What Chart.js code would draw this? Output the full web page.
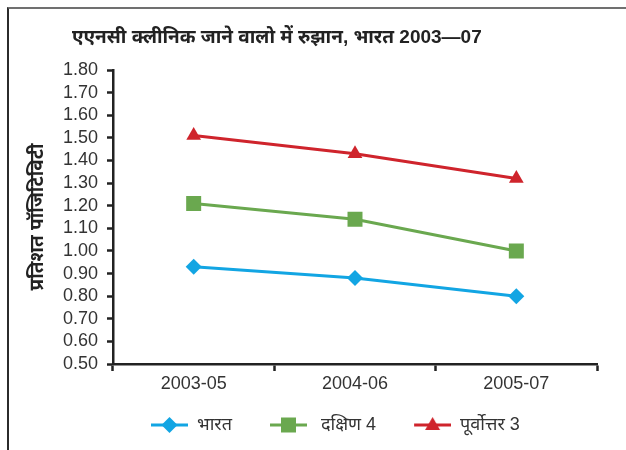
<!DOCTYPE html>
<html>
<head>
<meta charset="utf-8">
<script src="https://cdn.jsdelivr.net/npm/chart.js@4/dist/chart.umd.min.js"></script>
<style>
    html, body { margin: 0; padding: 0; background: #fff; }
    #wrap { position: relative; width: 626px; height: 450px; overflow: hidden; }
    #frame {
        position: absolute; left: 7px; top: 7px; right: -5px; bottom: -5px;
        border-top: 2px solid #707070; border-left: 2px solid #2b2b2b;
    }
    #chart { position: absolute; left: 0; top: 0; }
</style>
</head>
<body>
<div id="wrap">
    <div id="frame"></div>
    <canvas id="chart" width="626" height="450"></canvas>
</div>
<script>
/* data */
const periods = ['2003-05', '2004-06', '2005-07'];
const bharat = [0.93, 0.88, 0.80];
const dakshin = [1.21, 1.14, 1.00];
const purvottar = [1.51, 1.43, 1.32];

const chartTitle = 'एएनसी क्लीनिक जाने वालो में रुझान, भारत 2003—07';
const yTitle = 'प्रतिशत पॉजिटिविटी';

const FONT = "'Liberation Sans', 'Noto Sans', 'DejaVu Sans', sans-serif";
const BLUE = '#12a5e3';
const GREEN = '#6aa84f';
const RED = '#cf242c';

const LEGEND_GAP = 28; // blank space left of each legend symbol

// legend symbol: short line with the marker on it
function legendSymbol(color, shape) {
    const c = document.createElement('canvas');
    c.width = LEGEND_GAP + 37;
    c.height = 20;
    const ctx = c.getContext('2d');
    const x0 = LEGEND_GAP, cx = LEGEND_GAP + 18.5, cy = 10;
    ctx.strokeStyle = color;
    ctx.fillStyle = color;
    ctx.lineWidth = 3;
    ctx.beginPath();
    ctx.moveTo(x0, cy);
    ctx.lineTo(x0 + 37, cy);
    ctx.stroke();
    ctx.beginPath();
    if (shape === 'diamond') {
        ctx.moveTo(cx, cy - 8); ctx.lineTo(cx + 8, cy); ctx.lineTo(cx, cy + 8); ctx.lineTo(cx - 8, cy);
    } else if (shape === 'square') {
        ctx.rect(cx - 7.5, cy - 7.5, 15, 15);
    } else {
        ctx.moveTo(cx, cy - 8); ctx.lineTo(cx + 7.5, cy + 5); ctx.lineTo(cx - 7.5, cy + 5);
    }
    ctx.closePath();
    ctx.fill();
    return c;
}

const titlePlugin = {
    id: 'hindiTitle',
    afterDraw(chart) {
        const ctx = chart.ctx;
        ctx.save();
        ctx.font = 'bold 19px ' + FONT;
        ctx.fillStyle = '#222';
        ctx.textBaseline = 'middle';
        ctx.textAlign = 'left';
        ctx.fillText(chartTitle, 72, 38);
        ctx.restore();
    }
};

function makeDataset(label, data, color, style, radius, shape) {
    return {
        label: label,
        data: data,
        borderColor: color,
        backgroundColor: color,
        borderWidth: 3,
        pointStyle: style,
        pointRadius: radius,
        pointHoverRadius: radius,
        pointBorderWidth: 0,
        pointBackgroundColor: color,
        tension: 0,
        legendSymbol: legendSymbol(color, shape)
    };
}

const ctx = document.getElementById('chart').getContext('2d');
new Chart(ctx, {
    type: 'line',
    data: {
        labels: periods,
        datasets: [
            makeDataset('भारत', bharat, BLUE, 'rectRot', 8, 'diamond'),
            makeDataset(' दक्षिण 4', dakshin, GREEN, 'rect', 10.6, 'square'),
            makeDataset('पूर्वोत्तर 3', purvottar, RED, 'triangle', 8.5, 'triangle')
        ]
    },
    options: {
        responsive: false,
        animation: false,
        layout: { padding: { top: 70, left: 0, right: 29, bottom: 6 } },
        plugins: {
            title: { display: false },
            tooltip: { enabled: false },
            legend: {
                position: 'bottom',
                align: 'start',
                fullSize: false,
                labels: {
                    usePointStyle: true,
                    pointStyleWidth: LEGEND_GAP + 37,
                    padding: 10,
                    color: '#333',
                    font: { family: FONT, size: 18 },
                    generateLabels(chart) {
                        return chart.data.datasets.map((ds, i) => ({
                            text: ds.label,
                            pointStyle: ds.legendSymbol,
                            fillStyle: ds.borderColor,
                            strokeStyle: ds.borderColor,
                            lineWidth: 0,
                            hidden: false,
                            datasetIndex: i,
                            fontColor: '#333'
                        }));
                    }
                }
            }
        },
        scales: {
            x: {
                offset: true,
                grid: {
                    offset: true,
                    drawOnChartArea: false,
                    drawTicks: true,
                    tickLength: 7,
                    tickWidth: 2.5,
                    tickColor: '#222'
                },
                border: { color: '#222', width: 2.5 },
                ticks: {
                    color: '#333',
                    padding: 2,
                    font: { family: FONT, size: 18 }
                },
                afterFit(scale) { scale.height = 42; }
            },
            y: {
                min: 0.5,
                max: 1.8,
                grid: {
                    drawOnChartArea: false,
                    drawTicks: true,
                    tickLength: 6,
                    tickWidth: 2.5,
                    tickColor: '#222'
                },
                border: { color: '#222', width: 2.5 },
                ticks: {
                    stepSize: 0.1,
                    autoSkip: false,
                    color: '#333',
                    padding: 9,
                    font: { family: FONT, size: 18 },
                    callback: value => Number(value).toFixed(2)
                },
                title: {
                    display: true,
                    text: yTitle,
                    color: '#222',
                    font: { family: FONT, size: 19, weight: 'bold' },
                    padding: { top: 26, bottom: 0 }
                },
                afterFit(scale) { scale.width = 113; }
            }
        }
    },
    plugins: [titlePlugin]
});
</script>
</body>
</html>
